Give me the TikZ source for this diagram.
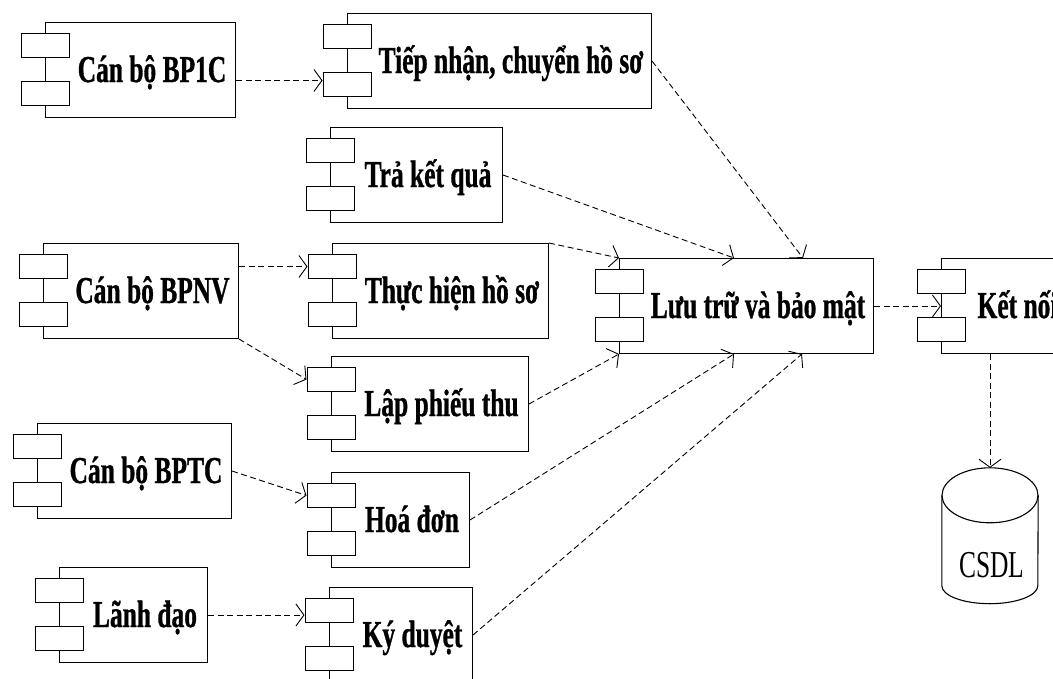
\documentclass[tikz,border=0pt]{standalone}
\usepackage{fontspec}
\newfontfamily\lblfont{Liberation Serif}[FakeStretch=0.67, BoldFeatures={FakeBold=0.8}]
\usetikzlibrary{arrows.meta}

\tikzset{
  mainbox/.style={draw=black, line width=1pt, inner sep=0pt, minimum height=95pt},
  portbox/.style={draw=black, fill=white, line width=1pt, inner sep=0pt,
                  minimum width=48pt, minimum height=24pt},
  lbl/.style={inner sep=0pt, font=\lblfont\bfseries\fontsize{38}{40}\selectfont},
  dep/.style={line width=0.9pt, dash pattern=on 6pt off 3.5pt,
              -{Straight Barb[length=8pt,width=22pt]}},
  dbline/.style={line width=1.1pt},
  dblbl/.style={inner sep=0pt, font=\lblfont\fontsize{38}{40}\selectfont}
}

% component: name, left x, right x, top y, label
\newcommand{\component}[5]{%
  \node[mainbox, minimum width={(#3-#2)*1pt}, anchor=north west] (#1) at (#2,#4) {};
  \node[portbox, anchor=north] (#1-p1) at (#2,#4+11) {};
  \node[portbox, anchor=north] (#1-p2) at (#2,#4+59) {};
  \node[lbl, anchor=base] (#1-t) at ({(#2+24+#3)/2},{#4+47.5+12.5}) {#5};
}

\begin{document}
\begin{tikzpicture}[x=1pt,y=-1pt]
  \useasboundingbox (0,0) rectangle (1053,678);
  \clip (0,0) rectangle (1053,678);

  % actors
  \component{BP1C}{45}{235}{22}{Cán bộ BP1C}
  \component{BPNV}{43}{238}{243}{Cán bộ BPNV}
  \component{BPTC}{37}{231}{423}{Cán bộ BPTC}
  \component{Lanh}{59}{207}{567}{Lãnh đạo}

  % functions
  \component{Tiep}{347}{651}{13}{Tiếp nhận, chuyển hồ sơ}
  \component{Tra}{330}{502}{127}{Trả kết quả}
  \component{Thuc}{332}{548}{243}{Thực hiện hồ sơ}
  \component{Lap}{331}{528}{356}{Lập phiếu thu}
  \component{Hoa}{331}{469}{472}{Hoá đơn}
  \component{Ky}{329}{472}{587}{Ký duyệt}

  % storage and connection
  \component{Luu}{619}{873}{258}{Lưu trữ và bảo mật}
  \component{Ket}{941}{1070}{258}{Kết nối}

  % database cylinder
  \node[inner sep=0pt, minimum width=96pt, minimum height=135.5pt] (db) at (990,535.75) {};
  \draw[dbline] ([yshift=-27.5pt]db.north) ellipse[x radius=48pt, y radius=27.5pt];
  \draw[dbline] ([yshift=-27.5pt]db.north west) -- ([yshift=18pt]db.south west)
        arc[start angle=180, end angle=360, x radius=48pt, y radius=18pt]
        -- ([yshift=-27.5pt]db.north east);
  \node[dblbl, anchor=base] (dbt) at (992,577) {CSDL};

  % dependencies
  \draw[dep] ([yshift=-10.5pt]BP1C.east) -- ([yshift=4pt]Tiep-p2.west);
  \draw[dep] (BPNV.east |- Thuc-p1.west) -- (Thuc-p1.west);
  \draw[dep] (BPNV.south east) -- (Lap-p1.west);
  \draw[dep] (BPTC.east) -- (Hoa-p1.west);
  \draw[dep] (Lanh.east) -- (Lanh.east -| Ky-p1.west);

  \draw[dep] (Tiep.east) -- ([xshift=184pt]Luu.north west);
  \draw[dep] (Tra.east) -- ([xshift=115pt]Luu.north west);
  \draw[dep] (Thuc.north east) -- (Luu.north west);
  \draw[dep] (Lap.east) -- (Luu.south west);
  \draw[dep] (Hoa.east) -- ([xshift=115pt]Luu.south west);
  \draw[dep] (Ky.east) -- ([xshift=183pt]Luu.south west);

  \draw[dep] (Luu.east) -- (Ket.west);
  \draw[dep] (db.north |- Ket.south) -- (db.north);
\end{tikzpicture}
\end{document}
